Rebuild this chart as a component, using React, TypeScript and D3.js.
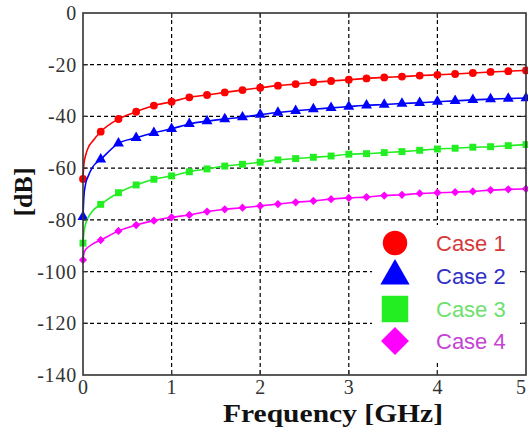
import React from "react";
import * as d3 from "d3";

// marker frequencies (GHz)
const freqGHz = [0, 0.2, 0.4, 0.6, 0.8, 1.0, 1.2, 1.4, 1.6, 1.8, 2.0, 2.2, 2.4, 2.6, 2.8, 3.0, 3.2, 3.4, 3.6, 3.8, 4.0, 4.2, 4.4, 4.6, 4.8, 5.0];
// extra unmarked points on the steep start of each curve
const rampGHz = [0.01, 0.03, 0.06, 0.11];

const case1 = [-64.2, -45.9, -41.0, -38.2, -35.8, -34.3, -32.6, -31.7, -30.7, -29.8, -28.9, -28.1, -27.5, -26.8, -26.3, -25.8, -25.3, -24.9, -24.6, -24.2, -23.9, -23.6, -23.2, -22.8, -22.5, -22.2];
const case2 = [-78.8, -56.6, -50.4, -48.3, -46.3, -44.8, -42.9, -41.8, -41.0, -40.3, -39.3, -38.5, -37.8, -37.2, -36.7, -36.2, -35.7, -35.4, -35.0, -34.7, -34.3, -34.0, -33.6, -33.3, -33.1, -32.9];
const case3 = [-89.0, -74.0, -69.5, -66.5, -64.3, -63.0, -61.4, -60.3, -59.2, -58.5, -57.7, -56.8, -56.3, -55.8, -55.3, -54.6, -54.4, -54.0, -53.6, -53.1, -52.6, -52.3, -51.9, -51.7, -51.3, -50.9];
const case4 = [-95.5, -87.8, -84.3, -82.0, -80.3, -79.0, -78.1, -76.8, -75.9, -75.3, -74.6, -73.9, -73.2, -72.7, -72.0, -71.5, -71.2, -70.6, -70.3, -69.8, -69.5, -69.3, -69.0, -68.5, -68.2, -68.0];

const ramp1 = [-58.5, -55.0, -52.0, -49.5];
const ramp2 = [-71.0, -66.0, -63.0, -59.5];
const ramp3 = [-85.0, -81.5, -79.0, -76.5];
const ramp4 = [-93.0, -91.5, -90.5, -89.3];

const xTicks = [0, 1, 2, 3, 4, 5];
const yTicks = [0, -20, -40, -60, -80, -100, -120, -140];
const legendNames = ["Case 1", "Case 2", "Case 3", "Case 4"];

const series = [
  { name: legendNames[0], values: case1, ramp: ramp1, color: "#ff0000", text: "#d43a3a", symbol: d3.symbolCircle, rot: 0 },
  { name: legendNames[1], values: case2, ramp: ramp2, color: "#0000ff", text: "#2f2fc4", symbol: d3.symbolTriangle, rot: 0 },
  { name: legendNames[2], values: case3, ramp: ramp3, color: "#22ee22", text: "#6ee06e", symbol: d3.symbolSquare, rot: 0 },
  { name: legendNames[3], values: case4, ramp: ramp4, color: "#ff00ff", text: "#c444d4", symbol: d3.symbolSquare, rot: 45 },
];

const margin = { left: 83, top: 13, right: 526, bottom: 375 };

export default function App() {
  const x = d3.scaleLinear().domain([0, 5]).range([margin.left, margin.right]);
  const y = d3.scaleLinear().domain([-140, 0]).range([margin.bottom, margin.top]);

  const line = d3
    .line<[number, number]>()
    .x(d => x(d[0]))
    .y(d => y(d[1]))
    .curve(d3.curveMonotoneX);

  const plotSize: Record<string, number> = { "Case 1": 48, "Case 2": 52, "Case 3": 48, "Case 4": 34 };
  const legSize: Record<string, number> = { "Case 1": 470, "Case 2": 370, "Case 3": 700, "Case 4": 390 };

  const legX = 395;
  const legY = [243, 276, 309, 341];

  return (
    <svg width={528} height={428} style={{ position: "absolute", left: 0, top: 0, background: "#fff" }}>
      {/* grid */}
      <g stroke="#000" strokeWidth={1.2} strokeDasharray="4,3">
        {xTicks.slice(1, -1).map(t => (
          <line key={"gx" + t} x1={x(t)} x2={x(t)} y1={y(0)} y2={y(-140)} />
        ))}
        {yTicks.slice(1, -1).map(t => (
          <line key={"gy" + t} x1={x(0)} x2={x(5)} y1={y(t)} y2={y(t)} />
        ))}
      </g>

      {/* curves */}
      {series.map(s => {
        const pts: [number, number][] = [[freqGHz[0], s.values[0]]];
        rampGHz.forEach((f, i) => pts.push([f, s.ramp[i]]));
        freqGHz.slice(1).forEach((f, i) => pts.push([f, s.values[i + 1]]));
        const sym = d3.symbol().type(s.symbol).size(plotSize[s.name]);
        return (
          <g key={s.name}>
            <path d={line(pts) || ""} fill="none" stroke={s.color} strokeWidth={1.6} />
            {freqGHz.map((f, i) => (
              <path key={i} d={sym() || ""} fill={s.color} transform={`translate(${x(f)},${y(s.values[i])}) rotate(${s.rot})`} />
            ))}
          </g>
        );
      })}

      {/* legend */}
      <rect x={372} y={225} width={148} height={135} fill="#fff" />
      {series.map((s, i) => {
        const sym = d3.symbol().type(s.symbol).size(legSize[s.name]);
        return (
          <g key={"leg" + s.name}>
            <path d={sym() || ""} fill={s.color} transform={`translate(${legX},${legY[i]}) rotate(${s.rot})`} />
            <text x={436} y={legY[i] + 8} fontFamily="'Liberation Sans', Arial, sans-serif" fontSize={22} fill={s.text}>
              {s.name}
            </text>
          </g>
        );
      })}

      {/* inward ticks */}
      <g stroke="#333" strokeWidth={1.2}>
        {xTicks.slice(1, -1).map(t => (
          <g key={"tx" + t}>
            <line x1={x(t)} x2={x(t)} y1={y(-140)} y2={y(-140) - 5} />
            <line x1={x(t)} x2={x(t)} y1={y(0)} y2={y(0) + 5} />
          </g>
        ))}
        {yTicks.slice(1, -1).map(t => (
          <g key={"ty" + t}>
            <line x1={x(0)} x2={x(0) + 5} y1={y(t)} y2={y(t)} />
            <line x1={x(5)} x2={x(5) - 5} y1={y(t)} y2={y(t)} />
          </g>
        ))}
      </g>

      {/* frame */}
      <rect x={x(0)} y={y(0)} width={x(5) - x(0)} height={y(-140) - y(0)} fill="none" stroke="#333" strokeWidth={1.6} />

      {/* tick labels */}
      <g fontFamily="'Liberation Serif', 'Times New Roman', serif" fontSize={20} fill="#333">
        {yTicks.map(t => (
          <text key={"ly" + t} x={77} y={y(t)} dy="0.35em" textAnchor="end" letterSpacing={0.8}>
            {t}
          </text>
        ))}
        {xTicks.map(t => (
          <text key={"lx" + t} x={Math.min(x(t), 521)} y={394} textAnchor="middle">
            {t}
          </text>
        ))}
      </g>

      {/* axis titles */}
      <text x={333} y={422} textAnchor="middle" fontFamily="'Liberation Serif', 'Times New Roman', serif" fontWeight="bold" fontSize={25} fill="#111" textLength={220} lengthAdjust="spacingAndGlyphs">
        Frequency [GHz]
      </text>
      <text transform="translate(32,192) rotate(-90)" textAnchor="middle" fontFamily="'Liberation Serif', 'Times New Roman', serif" fontWeight="bold" fontSize={26} fill="#111">
        [dB]
      </text>
    </svg>
  );
}
